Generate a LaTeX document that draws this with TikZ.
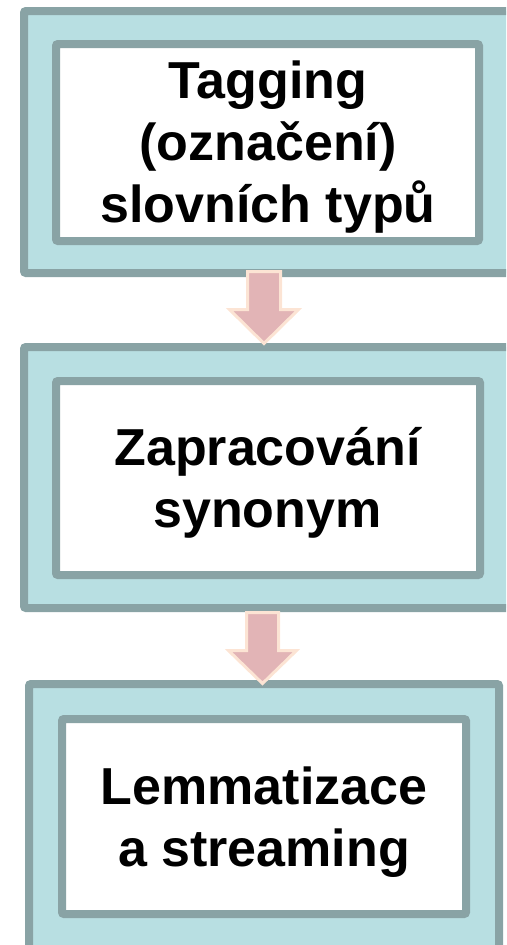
\documentclass[tikz,border=0pt]{standalone}
\usepackage{fontspec}
\setmainfont{Liberation Sans}
\definecolor{bordergray}{HTML}{89A3A5}
\definecolor{tealfill}{HTML}{B8DFE2}
\definecolor{arrowpink}{HTML}{E2B4B6}
\definecolor{arrowpeach}{HTML}{FCE4D4}
\begin{document}
\begin{tikzpicture}[x=1pt,y=-1pt,
  outerbox/.style={draw=bordergray, line width=8pt, fill=tealfill, rounded corners=2pt, inner sep=0pt, outer sep=0pt},
  innerbox/.style={draw=bordergray, line width=8pt, fill=white, rounded corners=2pt, inner sep=0pt, outer sep=0pt},
  label/.style={align=center, font=\bfseries\fontsize{52}{62}\selectfont, inner sep=0pt, anchor=base},
  flowarrow/.style={fill=arrowpink, draw=arrowpeach, line width=3pt, line join=miter}]
\useasboundingbox (0,0) rectangle (506,945);
\clip (0,0) rectangle (506,945);
% box 1
\node[outerbox, minimum width=488pt, minimum height=262pt] (o1) at (268,142) {};
\node[innerbox, minimum width=423pt, minimum height=197pt] (i1) at (267.5,142.5) {};
\node[label] (t1) at (268,222.5) {Tagging\\(označení)\\slovních typů};
% box 2
\node[outerbox, minimum width=488pt, minimum height=261pt] (o2) at (268,477.5) {};
\node[innerbox, minimum width=424pt, minimum height=194pt] (i2) at (268,478) {};
\node[label] (t2) at (267.5,527.5) {Zapracování\\synonym};
% box 3
\node[outerbox, minimum width=470pt, minimum height=274pt] (o3) at (264,821) {};
\node[innerbox, minimum width=404pt, minimum height=195pt] (i3) at (264,816.5) {};
\node[label] (t3) at (264,866.5) {Lemmatizace\\a streaming};
% arrows
\draw[flowarrow] (247.5,271.5) -- (280.5,271.5) -- (280.5,309.5) -- (298.5,309.5) -- (264,343.5) -- (229.5,309.5) -- (247.5,309.5) -- cycle;
\draw[flowarrow] (246.5,612.5) -- (278.5,612.5) -- (278.5,650.5) -- (296.5,650.5) -- (262.5,683.5) -- (228.5,650.5) -- (246.5,650.5) -- cycle;
\end{tikzpicture}
\end{document}
